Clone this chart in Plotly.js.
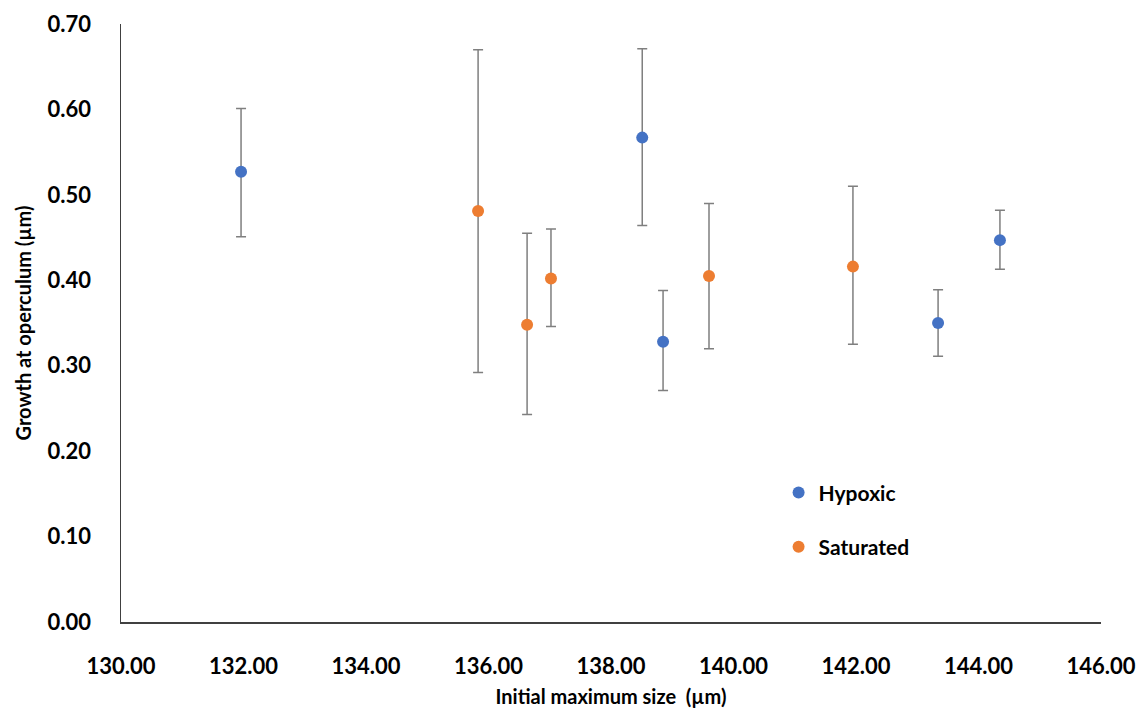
<!DOCTYPE html>
<html>
<head>
<meta charset="utf-8">
<script src="https://cdn.plot.ly/plotly-3.0.1.min.js"></script>
<style>html,body{margin:0;padding:0;background:#fff}#chart{width:1146px;height:713px}</style>
</head>
<body>
<div id="chart"></div>
<script>
const hypoxicX = [131.96, 138.51, 138.85, 143.34, 144.35];
const hypoxicY = [0.527, 0.567, 0.328, 0.350, 0.447];
const hypoxicErrPlus = [0.074, 0.104, 0.060, 0.039, 0.035];
const hypoxicErrMinus = [0.076, 0.103, 0.057, 0.039, 0.034];

const saturatedX = [135.83, 136.63, 137.02, 139.60, 141.95];
const saturatedY = [0.481, 0.348, 0.402, 0.405, 0.416];
const saturatedErrPlus = [0.189, 0.107, 0.058, 0.085, 0.094];
const saturatedErrMinus = [0.189, 0.105, 0.056, 0.085, 0.091];

const xTicks = [130, 132, 134, 136, 138, 140, 142, 144, 146];
const yTicks = [0, 0.1, 0.2, 0.3, 0.4, 0.5, 0.6, 0.7];

const font = "Lato, 'Open Sans', sans-serif";
function errBar(plus, minus) {
  return {type: 'data', symmetric: false, array: plus, arrayminus: minus,
          color: '#7f7f7f', thickness: 1.5, width: 5};
}
const traces = [
  {x: hypoxicX, y: hypoxicY, name: 'Hypoxic', legendgroup: 'h', type: 'scatter', mode: 'markers',
   marker: {color: '#4472C4', size: 12}, error_y: errBar(hypoxicErrPlus, hypoxicErrMinus)},
  {x: saturatedX, y: saturatedY, name: 'Saturated', legendgroup: 's', type: 'scatter', mode: 'markers',
   marker: {color: '#ED7D31', size: 12}, error_y: errBar(saturatedErrPlus, saturatedErrMinus)}
];
const layout = {
  width: 1146, height: 713,
  margin: {l: 121, r: 45, t: 24, b: 91},
  paper_bgcolor: '#fff', plot_bgcolor: '#fff',
  showlegend: true,
  legend: {x: 0.671, y: 0.171, xanchor: 'left', yanchor: 'middle',
           traceorder: 'grouped', tracegroupgap: 24,
           font: {family: font, size: 21, color: '#000', weight: 'bold'},
           itemsizing: 'constant', bgcolor: 'rgba(0,0,0,0)'},
  xaxis: {
    range: [130, 146], tickvals: xTicks,
    ticktext: xTicks.map(v => v.toFixed(2)),
    showgrid: false, zeroline: false, showline: true, linecolor: '#404040', linewidth: 1.5,
    ticks: '', ticklen: 0, ticklabelstandoff: 24,
    tickfont: {family: font, size: 22, color: '#000', weight: 'bold'},
    title: {text: 'Initial maximum size  (µm)', standoff: 12,
            font: {family: font, size: 20, color: '#000', weight: 'bold'}}
  },
  yaxis: {
    range: [0, 0.7], tickvals: yTicks,
    ticktext: yTicks.map(v => v.toFixed(2)),
    showgrid: false, zeroline: false, showline: true, linecolor: '#404040', linewidth: 1.5,
    ticks: '', ticklen: 0, ticklabelstandoff: 24,
    tickfont: {family: font, size: 22, color: '#000', weight: 'bold'},
    title: {text: 'Growth at operculum (µm)', standoff: 10,
            font: {family: font, size: 20, color: '#000', weight: 'bold'}}
  }
};
Plotly.newPlot('chart', traces, layout, {displayModeBar: false, staticPlot: true});
</script>
</body>
</html>
